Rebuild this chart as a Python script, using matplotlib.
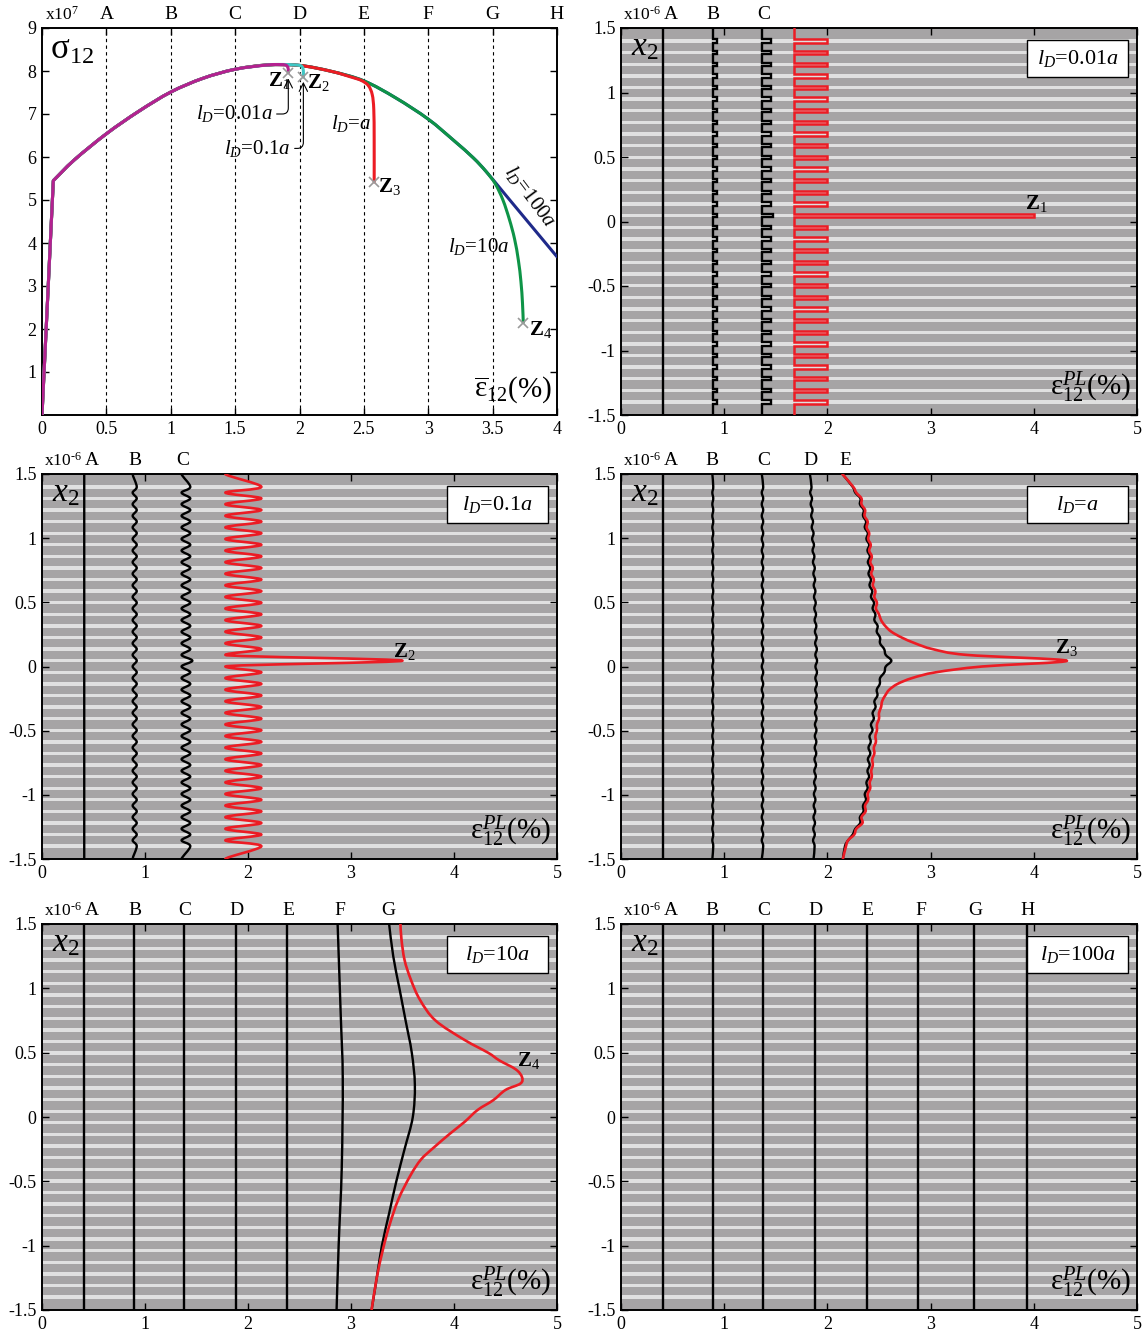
import numpy as np
import matplotlib
matplotlib.use("Agg")
import matplotlib.pyplot as plt
from matplotlib.path import Path
from matplotlib.patches import PathPatch, Rectangle

plt.rcParams['font.family'] = ['Liberation Serif', 'DejaVu Serif']
plt.rcParams['mathtext.fontset'] = 'custom'
plt.rcParams['mathtext.rm'] = 'Liberation Serif'
plt.rcParams['mathtext.it'] = 'Liberation Serif:italic'
plt.rcParams['mathtext.bf'] = 'Liberation Serif:bold'
plt.rcParams['mathtext.fallback'] = 'stix'

DARK = '#a6a4a5'
LIGHT = '#e0e0e0'
C_MAG = '#b4218f'
C_CYAN = '#3fc6c4'
C_RED = '#ec1c24'
C_GREEN = '#0e9447'
C_BLUE = '#1f2a8a'
C_CROSS = '#9a9a9a'

# ---------------- stress-strain response: sigma_12 (x1e7) vs mean strain (%) ----------------
eps_ld001 = [0, 0.088, 0.25, 0.5, 0.75, 1.0, 1.25, 1.5, 1.75, 1.85, 1.89, 1.905, 1.913, 1.913]
sig_ld001 = [0, 5.45, 5.93, 6.54, 7.06, 7.51, 7.83, 8.04, 8.14, 8.15, 8.14, 8.11, 8.04, 7.96]

eps_ld01 = [0, 0.088, 0.25, 0.5, 0.75, 1.0, 1.25, 1.5, 1.75, 1.9, 2.0, 2.022, 2.03, 2.03]
sig_ld01 = [0, 5.45, 5.93, 6.54, 7.06, 7.51, 7.83, 8.04, 8.14, 8.15, 8.13, 8.09, 8.0, 7.86]

eps_ld1 = [0, 0.088, 0.25, 0.5, 0.75, 1.0, 1.25, 1.5, 1.75, 2.0, 2.25, 2.4, 2.48, 2.535, 2.565, 2.577, 2.58, 2.58]
sig_ld1 = [0, 5.45, 5.93, 6.54, 7.06, 7.51, 7.83, 8.04, 8.14, 8.13, 7.99, 7.86, 7.78, 7.66, 7.45, 7.1, 6.4, 5.42]

eps_ld10 = [0, 0.088, 0.25, 0.5, 0.75, 1.0, 1.25, 1.5, 1.75, 2.0, 2.25, 2.5, 2.75, 3.0, 3.2, 3.35, 3.45,
            3.52, 3.58, 3.63, 3.67, 3.70, 3.72, 3.732, 3.738]
sig_ld10 = [0, 5.45, 5.93, 6.54, 7.06, 7.51, 7.83, 8.04, 8.14, 8.13, 7.99, 7.77, 7.37, 6.88, 6.38, 5.98, 5.66,
            5.38, 5.0, 4.55, 4.1, 3.6, 3.1, 2.6, 2.15]

eps_ld100 = [0, 0.088, 0.25, 0.5, 0.75, 1.0, 1.25, 1.5, 1.75, 2.0, 2.25, 2.5, 2.75, 3.0, 3.2, 3.35, 3.45,
             3.6, 3.8, 4.0]
sig_ld100 = [0, 5.45, 5.93, 6.54, 7.06, 7.51, 7.83, 8.04, 8.14, 8.13, 7.99, 7.77, 7.37, 6.88, 6.38, 5.98, 5.66,
             5.12, 4.4, 3.68]

# failure points Z1..Z4
z_eps = [1.913, 2.03, 2.58, 3.738]
z_sig = [7.96, 7.86, 5.42, 2.15]

# mean strain states A..H
state_letters = ['A', 'B', 'C', 'D', 'E', 'F', 'G', 'H']
state_eps = [0.5, 1.0, 1.5, 2.0, 2.5, 3.0, 3.5, 4.0]

# ---------------- laminate: 32 soft layers between hard layers, x2 in 1e-6 ----------------
n_soft = 32
soft_centres = np.linspace(1.4, -1.4, n_soft)
soft_thick = 0.026
band = 15  # soft layer holding the localisation band
hard_y = np.concatenate([[1.5], (soft_centres[:-1] + soft_centres[1:]) / 2, [-1.5]])

# lD = 0.01a : plastic strain, piecewise constant per layer (A, B, C, Z1)
p001_hard = [0.41, 0.89, 1.37, 1.68]
p001_soft = [0.41, 0.93, 1.45, 2.00]
p001_band = [0.41, 0.93, 1.47, 4.00]
p001_letter_x = [0.48, 0.89, 1.38]

# lD = 0.1a : plastic strain per layer (A, B, C, Z2)
p01_hard = [0.41, 0.88, 1.355, 1.78]
p01_soft = [0.41, 0.92, 1.44, 2.13]
p01_band = [0.41, 0.92, 1.46, 3.50]
p01_letter_x = [0.48, 0.90, 1.37]

# lD = a : plastic strain per layer
p1_a = 0.41
p1_b_hard, p1_b_soft = 0.885, 0.894
p1_c_hard, p1_c_soft = 1.364, 1.378
p1_d_soft = [1.846, 1.851, 1.856, 1.861, 1.866, 1.870, 1.874, 1.878, 1.881, 1.884, 1.887, 1.890, 1.893, 1.896,
             1.898, 1.900, 1.899, 1.898, 1.897, 1.896, 1.895, 1.894, 1.893, 1.892, 1.890, 1.888, 1.886, 1.884,
             1.882, 1.880, 1.878, 1.876]
p1_d_hard = [1.830, 1.833, 1.838, 1.843, 1.848, 1.852, 1.856, 1.860, 1.864, 1.867, 1.870, 1.873, 1.876, 1.879,
             1.881, 1.883, 1.884, 1.883, 1.882, 1.881, 1.880, 1.879, 1.878, 1.877, 1.875, 1.873, 1.871, 1.869,
             1.867, 1.865, 1.863, 1.861, 1.866]
p1_e_soft = [2.245, 2.32, 2.352, 2.375, 2.392, 2.405, 2.412, 2.415, 2.422, 2.435, 2.452, 2.465, 2.487, 2.51,
             2.55, 2.62, 2.552, 2.508, 2.485, 2.467, 2.45, 2.437, 2.42, 2.416, 2.41, 2.404, 2.39, 2.374, 2.35,
             2.318, 2.245, 2.17]
p1_e_hard = [2.145, 2.27, 2.315, 2.345, 2.362, 2.378, 2.388, 2.392, 2.398, 2.408, 2.422, 2.438, 2.455, 2.478,
             2.51, 2.565, 2.565, 2.51, 2.478, 2.455, 2.438, 2.422, 2.408, 2.398, 2.392, 2.388, 2.378, 2.362,
             2.345, 2.315, 2.27, 2.2, 2.15]
p1_z_soft = [2.25, 2.33, 2.365, 2.39, 2.405, 2.42, 2.43, 2.44, 2.45, 2.465, 2.48, 2.50, 2.56, 2.72, 3.02, 4.32,
             3.05, 2.68, 2.56, 2.52, 2.50, 2.48, 2.47, 2.455, 2.44, 2.43, 2.415, 2.395, 2.37, 2.34, 2.26, 2.18]
p1_z_hard = [2.145, 2.28, 2.33, 2.36, 2.38, 2.395, 2.405, 2.415, 2.425, 2.44, 2.455, 2.47, 2.52, 2.62, 2.85,
             3.35, 3.5, 2.82, 2.6, 2.53, 2.5, 2.48, 2.465, 2.45, 2.435, 2.425, 2.41, 2.39, 2.365, 2.33, 2.28,
             2.2, 2.15]
p1_letter_x = [0.48, 0.884, 1.388, 1.84, 2.17]

# lD = 10a : smooth profiles
p10_straight = [0.41, 0.89, 1.38, 1.88, 2.38]
p10_f_x2 = [1.5, 0.8, 0.3, -0.4, -1.0, -1.5]
p10_f_eps = [2.87, 2.90, 2.92, 2.91, 2.88, 2.86]
p10_g_x2 = [1.5, 1.25, 1.0, 0.75, 0.5, 0.25, 0.0, -0.25, -0.5, -0.75, -1.0, -1.25, -1.5]
p10_g_eps = [3.37, 3.41, 3.47, 3.53, 3.59, 3.62, 3.60, 3.52, 3.44, 3.37, 3.30, 3.25, 3.2]
p10_z_x2 = [1.5, 1.38, 1.22, 1.07, 0.91, 0.75, 0.6, 0.5, 0.44, 0.37, 0.31, 0.26, 0.21, 0.13, 0.055, -0.04,
            -0.13, -0.24, -0.33, -0.45, -0.64, -0.85, -1.03, -1.25, -1.5]
p10_z_eps = [3.48, 3.49, 3.52, 3.58, 3.67, 3.82, 4.1, 4.33, 4.44, 4.6, 4.66, 4.645, 4.5, 4.38, 4.23, 4.1,
             3.96, 3.8, 3.68, 3.58, 3.46, 3.37, 3.31, 3.25, 3.2]
p10_letter_x = [0.48, 0.90, 1.39, 1.89, 2.39, 2.89, 3.36]

# lD = 100a : uniform profiles A..H
p100_eps = [0.41, 0.89, 1.38, 1.88, 2.38, 2.88, 3.42, 3.93]
p100_letter_x = [0.48, 0.885, 1.38, 1.88, 2.39, 2.91, 3.43, 3.94]


# ---------------- helpers ----------------
def smooth_path(x, y, n_linear=0, vertical=False):
    """Catmull-Rom curve through the points, drawn as cubic Bezier segments.
    With vertical=True every point gets a tangent parallel to the x2 axis."""
    pts = np.column_stack([x, y]).astype(float)
    verts = [pts[0]]
    codes = [Path.MOVETO]
    for i in range(n_linear):
        verts.append(pts[i + 1])
        codes.append(Path.LINETO)
    sub = pts[n_linear:]
    ext = np.vstack([sub[0], sub, sub[-1]])
    for i in range(len(sub) - 1):
        p0, p1, p2, p3 = ext[i], ext[i + 1], ext[i + 2], ext[i + 3]
        t1 = (p2 - p0) / 6.0
        t2 = (p3 - p1) / 6.0
        if vertical:
            t1 = np.array([0.0, t1[1]])
            t2 = np.array([0.0, t2[1]])
        verts += [p1 + t1, p2 - t2, p2]
        codes += [Path.CURVE4] * 3
    return Path(verts, codes)


def per_layer(hard, soft, band_value=None):
    hard = np.array(np.broadcast_to(np.asarray(hard, float), (n_soft + 1,)))
    soft = np.array(np.broadcast_to(np.asarray(soft, float), (n_soft,)))
    if band_value is not None:
        soft[band] = band_value
    return hard, soft


def layered_points(hard, soft):
    x = np.empty(2 * n_soft + 1)
    y = np.empty_like(x)
    x[0::2], x[1::2] = hard, soft
    y[0::2], y[1::2] = hard_y, soft_centres
    return x, y


def square_points(hard, soft):
    xs, ys = [hard[0]], [1.5]
    for k in range(n_soft):
        top = soft_centres[k] + soft_thick / 2
        bot = soft_centres[k] - soft_thick / 2
        xs += [hard[k], soft[k], soft[k], hard[k + 1]]
        ys += [top, top, bot, bot]
    xs.append(hard[-1])
    ys.append(-1.5)
    return xs, ys


def draw_path(ax, path, color, lw):
    ax.add_patch(PathPatch(path, fill=False, edgecolor=color, lw=lw, zorder=3,
                           joinstyle='round', capstyle='round'))


W, H = 1147, 1337
fig = plt.figure(figsize=(W / 100, H / 100), dpi=100)


def add_axes(l, t, r, b):
    return fig.add_axes([l / W, 1 - b / H, (r - l) / W, (b - t) / H])


def frame(ax):
    for s in ax.spines.values():
        s.set_linewidth(1.4)
    ax.tick_params(direction='in', top=True, right=True, length=5, width=1, labelsize=13, pad=4)


def strip_panel(ax, box_text, letters, letter_x):
    frame(ax)
    ax.set_xlim(0, 5)
    ax.set_ylim(-1.5, 1.5)
    ax.set_facecolor(DARK)
    for c in soft_centres:
        ax.axhspan(c - soft_thick / 2, c + soft_thick / 2, color=LIGHT, lw=0, zorder=0)
    ax.set_xticks([0, 1, 2, 3, 4, 5])
    ax.set_xticklabels(['0', '1', '2', '3', '4', '5'])
    ax.set_yticks([-1.5, -1, -0.5, 0, 0.5, 1, 1.5])
    ax.set_yticklabels(['-1.5', '-1', '-0.5', '0', '0.5', '1', '1.5'])
    ax.add_patch(Rectangle((0.787, 0.874), 0.196, 0.095, transform=ax.transAxes,
                           facecolor='white', edgecolor='black', lw=1.0, zorder=6))
    ax.text(0.885, 0.921, box_text, transform=ax.transAxes, ha='center', va='center',
            fontsize=16, zorder=7)
    ax.text(0.02, 0.95, r'$x_{\mathrm{2}}$', transform=ax.transAxes, ha='left', va='center',
            fontsize=24, zorder=7)
    ax.text(0.99, 0.025, r'$\mathrm{\varepsilon}^{PL}_{\mathit{12}}$(%)', transform=ax.transAxes,
            ha='right', va='bottom', fontsize=21, zorder=7)
    ax.text(0.004, 1.012, r'x10$^{\mathrm{\text{-6}}}$', transform=ax.transAxes, ha='left', va='bottom',
            fontsize=12.5)
    for s, xv in zip(letters, letter_x):
        ax.text(xv, 1.012, s, transform=ax.get_xaxis_transform(), ha='center', va='bottom', fontsize=14)


def z_label(ax, x, y, n):
    ax.text(x, y, r'$\mathbf{Z}_{\mathrm{%d}}$' % n, ha='center', va='center', fontsize=15, zorder=7)


# ---------------- stress-strain panel ----------------
ax = add_axes(42, 28, 557, 415)
frame(ax)
ax.set_xlim(0, 4)
ax.set_ylim(0, 9)
ax.set_xticks(np.arange(0, 4.01, 0.5))
ax.set_xticklabels(['0', '0.5', '1', '1.5', '2', '2.5', '3', '3.5', '4'])
ax.set_yticks(range(1, 10))
for xv in state_eps[:-1]:
    ax.axvline(xv, color='black', lw=0.8, ls=(0, (3, 3)), zorder=1)
for s, xv in zip(state_letters, state_eps):
    ax.text(xv, 1.012, s, transform=ax.get_xaxis_transform(), ha='center', va='bottom', fontsize=14)
ax.text(0.005, 1.012, r'x10$^{\mathrm{7}}$', transform=ax.transAxes, ha='left', va='bottom', fontsize=12.5)

for e, s, c in [(eps_ld100, sig_ld100, C_BLUE), (eps_ld10, sig_ld10, C_GREEN), (eps_ld1, sig_ld1, C_RED),
                (eps_ld01, sig_ld01, C_CYAN), (eps_ld001, sig_ld001, C_MAG)]:
    draw_path(ax, smooth_path(e, s, n_linear=1), c, 2.2)
ax.plot(z_eps, z_sig, ls='none', marker='x', color=C_CROSS, ms=7, mew=1.2, zorder=5)

z_lab_pos = [(1.84, 7.78), (2.145, 7.74), (2.70, 5.31), (3.87, 1.99)]
for i, (xz, yz) in enumerate(z_lab_pos):
    z_label(ax, xz, yz, i + 1)

arrow_kw = dict(arrowstyle='->', color='black', lw=0.8, shrinkA=1, shrinkB=1,
                connectionstyle='angle,angleA=0,angleB=90,rad=6')
ax.annotate(r'$l_{D}$=0.01$a$', xy=(z_eps[0], 7.86), xytext=(1.79, 7.0), ha='right', va='center',
            fontsize=15, arrowprops=arrow_kw)
ax.annotate(r'$l_{D}$=0.1$a$', xy=(z_eps[1], 7.78), xytext=(1.93, 6.2), ha='right', va='center',
            fontsize=15, arrowprops=arrow_kw)
ax.text(2.40, 6.79, r'$l_{D}$=$a$', ha='center', va='center', fontsize=15)
ax.text(3.39, 3.92, r'$l_{D}$=10$a$', ha='center', va='center', fontsize=15)
ax.text(3.79, 5.08, r'$l_{D}$=100$a$', ha='center', va='center', fontsize=15, rotation=-53)
ax.text(0.016, 0.985, r'$\mathrm{\sigma}_{\mathit{12}}$', transform=ax.transAxes, ha='left', va='top',
        fontsize=25)
ax.text(0.99, 0.025, r'$\overline{\mathrm{\varepsilon}}_{\mathit{12}}$(%)', transform=ax.transAxes,
        ha='right', va='bottom', fontsize=21)

# ---------------- lD = 0.01a ----------------
ax = add_axes(621, 28, 1137, 415)
strip_panel(ax, r'$l_{D}$=0.01$a$', state_letters[:3], p001_letter_x)
for i, col in enumerate(['black', 'black', 'black', C_RED]):
    hard, soft = per_layer(p001_hard[i], p001_soft[i], p001_band[i])
    xs, ys = square_points(hard, soft)
    ax.plot(xs, ys, color=col, lw=1.7 if col == 'black' else 1.8, zorder=3, solid_joinstyle='miter')
z_label(ax, 4.02, 0.14, 1)

# ---------------- lD = 0.1a ----------------
ax = add_axes(42, 474, 557, 859)
strip_panel(ax, r'$l_{D}$=0.1$a$', state_letters[:3], p01_letter_x)
for i, col in enumerate(['black', 'black', 'black', C_RED]):
    hard, soft = per_layer(p01_hard[i], p01_soft[i], p01_band[i])
    draw_path(ax, smooth_path(*layered_points(hard, soft), vertical=True), col,
              1.7 if col == 'black' else 1.9)
z_label(ax, 3.52, 0.12, 2)

# ---------------- lD = a ----------------
ax = add_axes(621, 474, 1137, 859)
strip_panel(ax, r'$l_{D}$=$a$', state_letters[:5], p1_letter_x)
ax.plot([p1_a, p1_a], [-1.5, 1.5], color='black', lw=1.7, zorder=3)
for hard, soft, col in [(p1_b_hard, p1_b_soft, 'black'), (p1_c_hard, p1_c_soft, 'black'),
                        (p1_d_hard, p1_d_soft, 'black'), (p1_e_hard, p1_e_soft, 'black'),
                        (p1_z_hard, p1_z_soft, C_RED)]:
    h, s = per_layer(hard, soft)
    draw_path(ax, smooth_path(*layered_points(h, s)), col, 1.7 if col == 'black' else 1.9)
z_label(ax, 4.32, 0.145, 3)

# ---------------- lD = 10a ----------------
ax = add_axes(42, 924, 557, 1310)
strip_panel(ax, r'$l_{D}$=10$a$', state_letters[:7], p10_letter_x)
for xv in p10_straight:
    ax.plot([xv, xv], [-1.5, 1.5], color='black', lw=1.7, zorder=3)
draw_path(ax, smooth_path(p10_f_eps, p10_f_x2), 'black', 1.7)
draw_path(ax, smooth_path(p10_g_eps, p10_g_x2), 'black', 1.7)
draw_path(ax, smooth_path(p10_z_eps, p10_z_x2), C_RED, 1.9)
z_label(ax, 4.72, 0.44, 4)

# ---------------- lD = 100a ----------------
ax = add_axes(621, 924, 1137, 1310)
strip_panel(ax, r'$l_{D}$=100$a$', state_letters, p100_letter_x)
for xv in p100_eps:
    ax.plot([xv, xv], [-1.5, 1.5], color='black', lw=1.7, zorder=3)

fig.savefig('out.png', dpi=100, facecolor='white')
